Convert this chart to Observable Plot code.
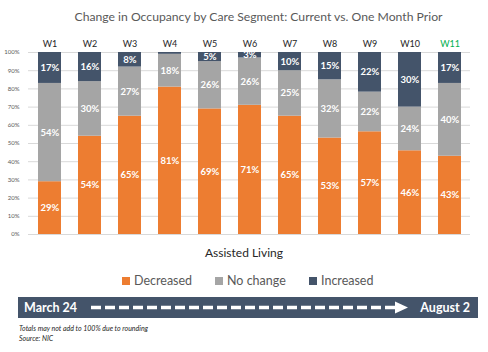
<!DOCTYPE html>
<html><head><meta charset="utf-8">
<script src="https://cdn.jsdelivr.net/npm/d3@7"></script>
<script src="https://cdn.jsdelivr.net/npm/@observablehq/plot@0.6"></script>
<style>
body{margin:0;width:488px;height:352px;background:#fff;position:relative;font-family:Lato,"Open Sans",sans-serif;overflow:hidden}
.abs{position:absolute;white-space:nowrap}
</style></head><body>
<div class="abs" id="title" style="top:9px;left:0;width:517px;text-align:center;font-size:12.2px;color:#595959">Change in Occupancy by Care Segment: Current vs. One Month Prior</div>
<div id="chart" class="abs" style="top:30px;left:0"></div>
<div class="abs" style="top:245px;left:0;width:488px;text-align:center;font-size:12px;color:#262626">Assisted Living</div>
<div id="legend" class="abs" style="top:273px;left:0;width:488px;font-size:12.5px;color:#595959"></div>
<div id="banner" class="abs" style="top:297px;left:18px"></div>
<div class="abs" style="top:324px;left:19px;font-size:7px;font-style:italic;color:#262626;line-height:9.5px">Totals may not add to 100% due to rounding<br>Source: NIC</div>
<script>
const weeks = ["W1","W2","W3","W4","W5","W6","W7","W8","W9","W10","W11"];
const series = ["Decreased","No change","Increased"];
const decreased = [29,54,65,81,69,71,65,53,57,46,43];
const noChange  = [54,30,27,18,26,26,25,32,22,24,40];
const increased = [17,16,8,1,5,3,10,15,22,30,17];
const yTicks = [0,0.1,0.2,0.3,0.4,0.5,0.6,0.7,0.8,0.9,1];
const colors = ["#ED7D31","#A5A5A5","#44546A"];
const highlightWeek = "W11";

const rows = [];
weeks.forEach((w,i)=>{
  rows.push({week:w, series:series[0], value:decreased[i]});
  rows.push({week:w, series:series[1], value:noChange[i]});
  rows.push({week:w, series:series[2], value:increased[i]});
});

const plot = Plot.plot({
  width:488, height:210,
  marginLeft:28, marginRight:18, marginTop:22, marginBottom:6,
  x:{domain:weeks, paddingInner:0.43, paddingOuter:0.17, axis:null},
  y:{domain:[0,1], axis:null},
  color:{domain:series, range:colors},
  style:{fontFamily:"Lato, sans-serif"},
  marks:[
    Plot.ruleY(yTicks, {stroke:"#d9d9d9", strokeWidth:1}),
    Plot.text(yTicks, {y:d=>d, text:d3.format(".0%"), frameAnchor:"left", textAnchor:"end", dx:-9, fontSize:6, fill:"#595959"}),
    Plot.barY(rows, Plot.stackY({x:"week", y:"value", z:"series", fill:"series", offset:"normalize"})),
    Plot.text(rows, Plot.stackY({x:"week", y:"value", z:"series", offset:"normalize",
      text:d=>d.value>=2 ? d.value+"%" : "", fill:"white", fontWeight:"bold", fontSize:9.5})),
    Plot.text(weeks, {x:d=>d, frameAnchor:"top", dy:-12, fontSize:9,
      fill:d=>d===highlightWeek?"#00B050":"#262626", fontWeight:d=>d===highlightWeek?"bold":"normal"})
  ]
});
document.getElementById("chart").appendChild(plot);

// legend
const legendX = [122, 215, 309];
const lg = document.getElementById("legend");
series.forEach((s,i)=>{
  const d = document.createElement("div");
  d.className="abs";
  d.style.left = legendX[i]+"px";
  d.style.top = "0px";
  d.innerHTML = `<span style="display:inline-block;width:8px;height:8px;background:${colors[i]};margin-right:4px;vertical-align:0px"></span>${s}`;
  lg.appendChild(d);
});

// banner
const startLabel = "March 24", endLabel = "August 2";
const bw = 460, bh = 21;
const svg = d3.create("svg").attr("width",bw).attr("height",bh);
svg.append("rect").attr("width",bw).attr("height",bh).attr("fill","#44546A");
svg.append("text").attr("x",6).attr("y",15).attr("fill","white").attr("font-weight","bold").attr("font-size",12.5).attr("font-family","Lato, sans-serif").text(startLabel);
svg.append("text").attr("x",452).attr("y",15).attr("text-anchor","end").attr("fill","white").attr("font-weight","bold").attr("font-size",12.5).attr("font-family","Lato, sans-serif").text(endLabel);
svg.append("line").attr("x1",73).attr("x2",377).attr("y1",10.5).attr("y2",10.5).attr("stroke","white").attr("stroke-width",3.5).attr("stroke-dasharray","10,4");
svg.append("path").attr("d","M377,4.5 L390,10.5 L377,16.5 Z").attr("fill","white");
document.getElementById("banner").appendChild(svg.node());
</script>
</body></html>
